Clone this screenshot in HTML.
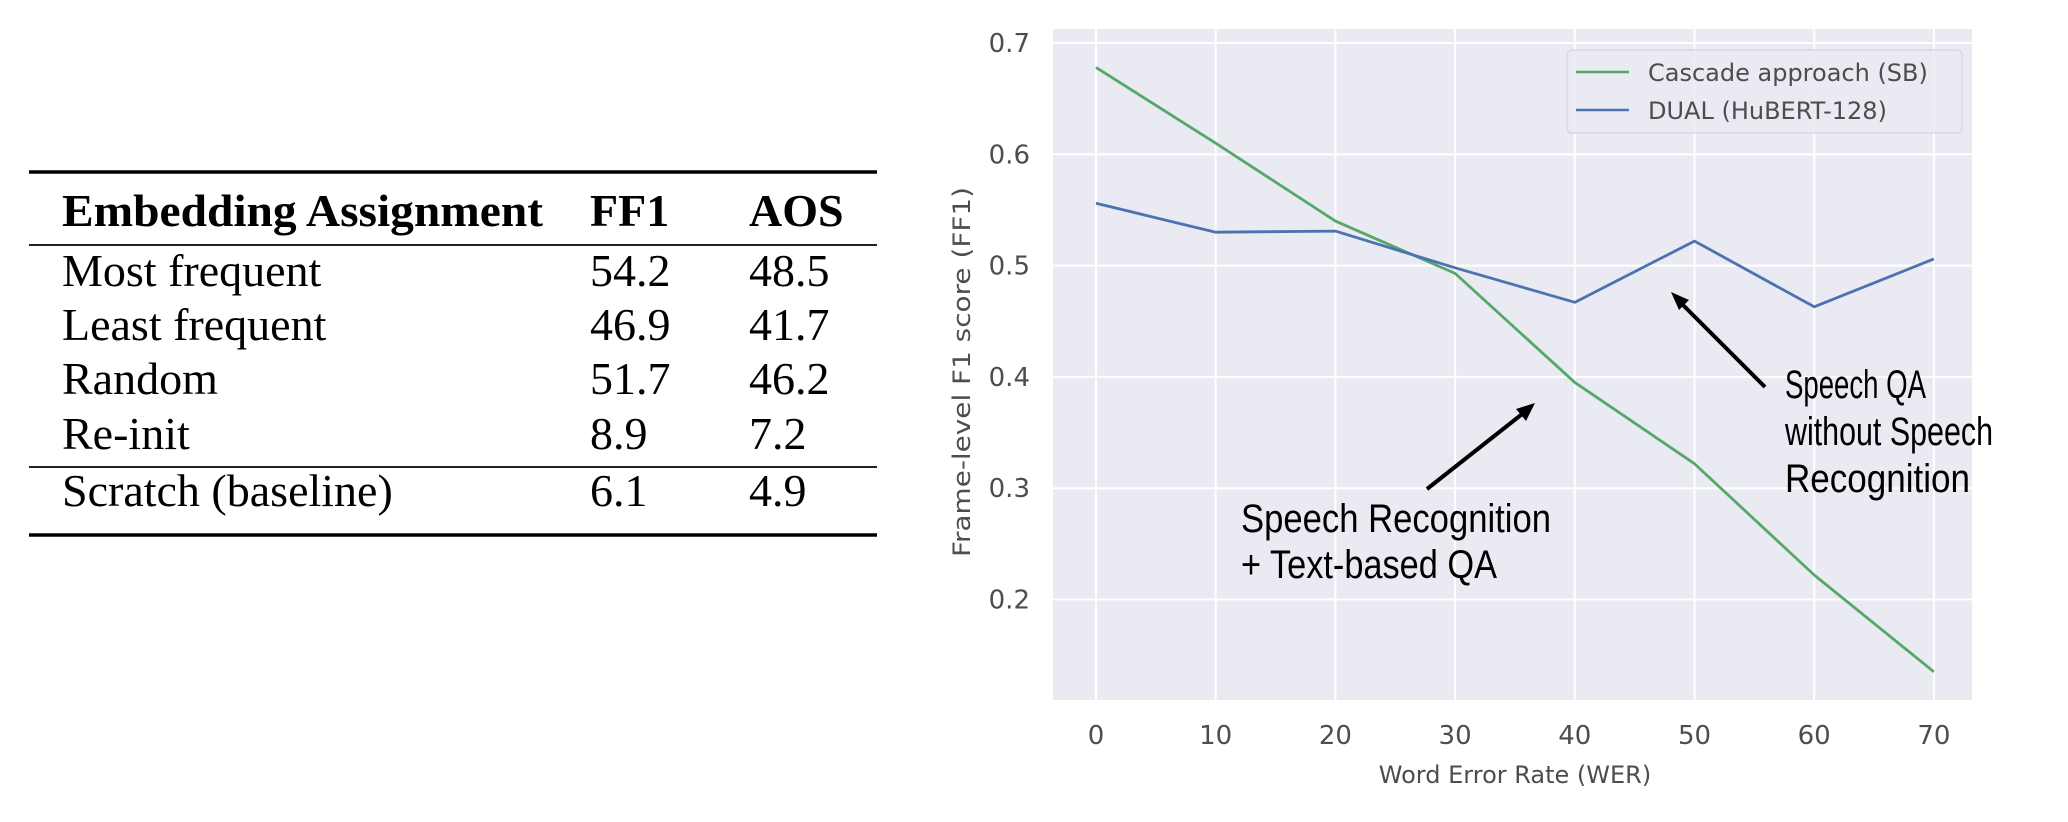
<!DOCTYPE html>
<html><head><meta charset="utf-8">
<style>
html,body{margin:0;padding:0;background:#fff;}
svg{display:block;}
.tbl{font-family:"Liberation Serif",serif;fill:#000;}
.ax{font-family:"DejaVu Sans","Liberation Sans",sans-serif;fill:#4d4d4d;}
.ann{font-family:"Liberation Sans Narrow","Liberation Sans",sans-serif;fill:#000;}
</style></head>
<body>
<svg id="root" width="2068" height="822" viewBox="0 0 2068 822" xmlns="http://www.w3.org/2000/svg">
  <g>
    <line x1="29" y1="172" x2="877" y2="172" stroke="#000" stroke-width="3.5"/>
    <text class="tbl" x="62" y="226" font-size="46" font-weight="bold" textLength="481" lengthAdjust="spacingAndGlyphs">Embedding Assignment</text>
    <text class="tbl" x="590" y="226" font-size="46" font-weight="bold">FF1</text>
    <text class="tbl" x="749" y="226" font-size="46" font-weight="bold">AOS</text>
    <line x1="29" y1="245" x2="877" y2="245" stroke="#000" stroke-width="1.8"/>
    <g font-size="46">
      <text class="tbl" x="62" y="286">Most frequent</text>
      <text class="tbl" x="590" y="286">54.2</text>
      <text class="tbl" x="749" y="286">48.5</text>
      <text class="tbl" x="62" y="340">Least frequent</text>
      <text class="tbl" x="590" y="340">46.9</text>
      <text class="tbl" x="749" y="340">41.7</text>
      <text class="tbl" x="62" y="394">Random</text>
      <text class="tbl" x="590" y="394">51.7</text>
      <text class="tbl" x="749" y="394">46.2</text>
      <text class="tbl" x="62" y="449">Re-init</text>
      <text class="tbl" x="590" y="449">8.9</text>
      <text class="tbl" x="749" y="449">7.2</text>
    </g>
    <line x1="29" y1="467" x2="877" y2="467" stroke="#000" stroke-width="1.8"/>
    <text class="tbl" x="62" y="506" font-size="46">Scratch (baseline)</text>
    <text class="tbl" x="590" y="506" font-size="46">6.1</text>
    <text class="tbl" x="749" y="506" font-size="46">4.9</text>
    <line x1="29" y1="535" x2="877" y2="535" stroke="#000" stroke-width="3.5"/>
  </g>

  <rect x="1053" y="29" width="919" height="671" fill="#eaeaf2"/>
  <g id="grid"></g>
  <g id="ticks"></g>
  <g id="series"></g>

  <text class="ax" transform="translate(970,372) rotate(-90)" text-anchor="middle" font-size="24" textLength="370" lengthAdjust="spacingAndGlyphs">Frame-level F1 score (FF1)</text>
  <text class="ax" x="1515" y="783" text-anchor="middle" font-size="24">Word Error Rate (WER)</text>

  <g>
    <rect x="1567" y="50" width="395" height="83" rx="5" fill="#eaeaf2" fill-opacity="0.85" stroke="#d4d4dc" stroke-width="1.2"/>
    <line x1="1576" y1="72" x2="1629" y2="72" stroke="#55a868" stroke-width="2.5"/>
    <text class="ax" x="1648" y="81" font-size="24" fill="#333">Cascade approach (SB)</text>
    <line x1="1576" y1="110" x2="1629" y2="110" stroke="#4c72b0" stroke-width="2.5"/>
    <text class="ax" x="1648" y="119" font-size="24" fill="#333">DUAL (HuBERT-128)</text>
  </g>

  <g>
    <line x1="1427" y1="489" x2="1526" y2="411" stroke="#000" stroke-width="4"/>
    <polygon points="1535,403 1516,409 1526,421" fill="#000"/>
    <line x1="1765" y1="387" x2="1678" y2="300" stroke="#000" stroke-width="4"/>
    <polygon points="1671,292 1689,300 1679,310" fill="#000"/>
    <text class="ann" x="1241" y="532" font-size="40" textLength="310" lengthAdjust="spacingAndGlyphs">Speech Recognition</text>
    <text class="ann" x="1241" y="578" font-size="40" textLength="256" lengthAdjust="spacingAndGlyphs">+ Text-based QA</text>
    <text class="ann" x="1785" y="398" font-size="40" textLength="141" lengthAdjust="spacingAndGlyphs">Speech QA</text>
    <text class="ann" x="1785" y="445" font-size="40" textLength="208" lengthAdjust="spacingAndGlyphs">without Speech</text>
    <text class="ann" x="1785" y="492" font-size="40" textLength="185" lengthAdjust="spacingAndGlyphs">Recognition</text>
  </g>
</svg>
<script>
const werValues = [0, 10, 20, 30, 40, 50, 60, 70];
const cascadeF1 = [0.678, 0.610, 0.540, 0.493, 0.395, 0.322, 0.222, 0.135];
const dualF1 = [0.556, 0.530, 0.531, 0.498, 0.467, 0.522, 0.463, 0.506];
const yTicks = [0.2, 0.3, 0.4, 0.5, 0.6, 0.7];
const xTicks = [0, 10, 20, 30, 40, 50, 60, 70];

const NS = 'http://www.w3.org/2000/svg';
function xs(v){ return 1096 + (v - 0) * 11.97; }
function ys(v){ return 43 + (0.7 - v) * 1113; }
function mk(tag, attrs, parent){
  const e = document.createElementNS(NS, tag);
  for (const k in attrs) e.setAttribute(k, attrs[k]);
  parent.appendChild(e);
  return e;
}
const grid = document.getElementById('grid');
const ticks = document.getElementById('ticks');
const series = document.getElementById('series');
yTicks.forEach(function(t){
  const l = mk('line', {x1:1053, x2:1972, y1:ys(t), y2:ys(t), stroke:'#fff', 'stroke-width':2}, grid);
  
  
  const tx = mk('text', {x:1030, y:ys(t)+9, 'text-anchor':'end', 'font-size':26, class:'ax'}, ticks);
  tx.textContent = t.toFixed(1);
  
  
});
xTicks.forEach(function(t){
  const l = mk('line', {x1:xs(t), x2:xs(t), y1:29, y2:700, stroke:'#fff', 'stroke-width':2}, grid);
  
  
  const tx = mk('text', {x:xs(t), y:744, 'text-anchor':'middle', 'font-size':26, class:'ax'}, ticks);
  tx.textContent = String(t);
  
  
});
function pts(arr){ return arr.map(function(v,i){ return xs(werValues[i]) + ',' + ys(v); }).join(' '); }
const g1 = mk('polyline', {points:pts(cascadeF1), fill:'none', stroke:'#55a868', 'stroke-width':2.8, 'stroke-linejoin':'round'}, series);


const g2 = mk('polyline', {points:pts(dualF1), fill:'none', stroke:'#4c72b0', 'stroke-width':2.8, 'stroke-linejoin':'round'}, series);


</script>
</body></html>
